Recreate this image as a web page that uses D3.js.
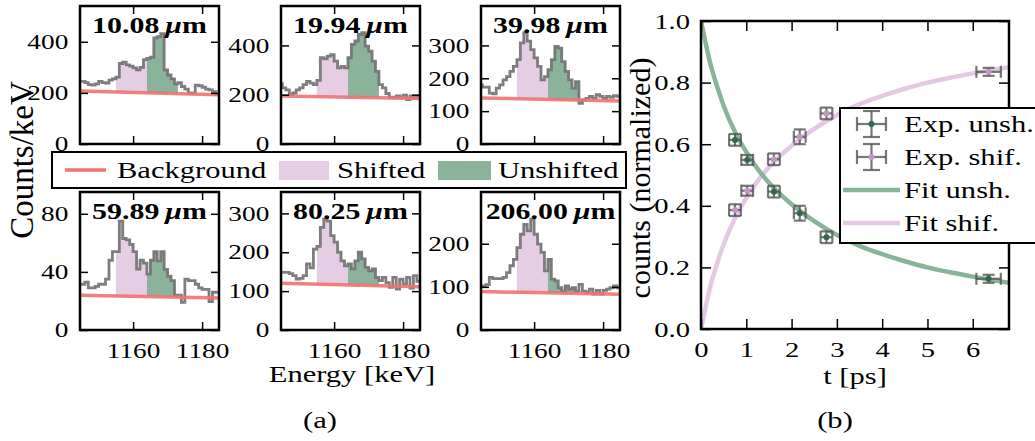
<!DOCTYPE html>
<html><head><meta charset="utf-8">
<script src="https://cdn.jsdelivr.net/npm/d3@7"></script>
<style>
body{margin:0;background:#fff}
svg{display:block;background:#fff}
text{font-family:"Liberation Serif","Times New Roman",serif;fill:#000}
</style>
</head><body>
<svg id="c" width="1035" height="441"></svg>
<script>
// ---------- DATA (a) ----------
const energyStart = 1144;              // first 1 keV bin left edge
const energyDomain = [1144.6, 1184.9];
const panelTitles = ["10.08", "19.94", "39.98", "59.89", "80.25", "206.00"];
const counts1 = [245,245,240,232,230,235,245,240,238,250,255,262,315,320,310,305,298,290,300,330,335,340,415,420,432,290,270,255,235,240,225,215,200,198,230,228,222,215,212,205,195];
const counts2 = [245,228,220,200,207,220,228,241,254,247,241,258,350,346,357,363,336,309,315,309,350,404,418,445,452,397,377,336,295,241,228,205,190,188,195,190,198,180,195,188,195];
const counts3 = [180,173,173,155,153,170,180,195,205,221,236,257,308,339,313,287,262,236,195,205,226,257,297,292,251,221,195,170,190,124,134,139,145,139,150,145,139,145,142,147,145];
const counts4 = [31.5,31.5,33,29,29,30,31.5,31.5,35,48,54,54,75,63,62,59,54,42,48,46,38.5,48,54,47.6,54,41.8,37,34,24,24,19,35,34,34,31.5,29,28,28,19.5,26,26];
const counts5 = [148,148,148,145,140,131,133,140,170,160,208,215,264,285,280,243,226,200,178,165,170,157,178,200,183,161,152,157,135,127,135,122,110,135,105,131,118,135,108,140,125];
const counts6 = [102,102,105,122,119,119,119,122,133,149,164,191,222,245,230,257,222,199,180,137,164,118,114,98,90,102,95,98,90,106,90,87,95,83,92,83,92,95,98,102,98];
const yMaxes = [540, 560, 420, 95, 355, 320];
const yTickVals = [[0,200,400],[0,200,400],[0,100,200,300],[0,40,80],[0,100,200,300],[0,100,200]];
const bgLeft  = [207, 195, 140, 24, 120, 89];
const bgRight = [193, 185, 131, 22, 111, 83];
const shiftedRange = [1155, 1164];
const unshiftedRange = [1164, 1173];
const energyTicks = [1160, 1180];
const legendALabels = ["Background", "Shifted", "Unshifted"];

// ---------- DATA (b) ----------
const tVals  = [0.75, 1.02, 1.61, 2.18, 2.77, 6.35];
const tErr   = [0.13, 0.13, 0.13, 0.13, 0.13, 0.27];
const unshVals = [0.614, 0.549, 0.446, 0.376, 0.298, 0.163];
const shifVals = [0.386, 0.449, 0.551, 0.624, 0.700, 0.835];
const yErrVals = [0.019, 0.016, 0.019, 0.024, 0.019, 0.013];
const fitT    = [0, 0.1, 0.2, 0.35, 0.5, 0.75, 1.0, 1.25, 1.5, 2.0, 2.5, 3.0, 3.5, 4.0, 4.5, 5.0, 5.5, 6.0, 6.5, 6.8];
const fitUnsh = [1.0, 0.93, 0.865, 0.79, 0.725, 0.64, 0.575, 0.52, 0.475, 0.405, 0.35, 0.305, 0.27, 0.243, 0.22, 0.2, 0.184, 0.17, 0.157, 0.15];
const fitShif = [0, 0.07, 0.135, 0.21, 0.275, 0.36, 0.425, 0.48, 0.525, 0.595, 0.65, 0.695, 0.73, 0.757, 0.78, 0.80, 0.816, 0.83, 0.843, 0.85];
const tTicks = [0,1,2,3,4,5,6];
const cTicks = [0,0.2,0.4,0.6,0.8,1.0];
const legendBLabels = ["Exp. unsh.", "Exp. shif.", "Fit unsh.", "Fit shif."];

// ---------- STYLE ----------
const SX = 1.3;
const C = {pink:"#e5cde4", green:"#8bb39b", hist:"#707070", bg:"#f07272",
           fitG:"#88b49a", fitP:"#e4c9e4", err:"#555", dotG:"#2d6b4a", dotP:"#c495c6"};

const svg = d3.select("#c");
svg.append("rect").attr("width",1035).attr("height",441).attr("fill","#fff");

function htext(parent, x, y, str, size, anchor, weight){
  return parent.append("text").attr("transform",`translate(${x},${y}) scale(${SX},1)`)
    .attr("font-size",size).attr("text-anchor",anchor||"start").attr("font-weight",weight||"normal").text(str);
}
function styleAxis(g, size, labels){
  g.select(".domain").remove();
  g.selectAll(".tick line").attr("stroke","#000").attr("stroke-width",1.5);
  g.attr("font-family",null).attr("font-size",null);
  const t = g.selectAll(".tick text");
  if(!labels){ t.remove(); return; }
  t.attr("font-size",size).attr("fill","#000").attr("transform",`scale(${SX},1)`);
}

// ---------- PANELS (a) ----------
const panelLeft = [80, 281, 481], panelTop = [6, 192], panelW = 139, panelH = 138;
const allCounts = [counts1, counts2, counts3, counts4, counts5, counts6];

allCounts.forEach((vals, i) => {
  const col = i % 3, row = Math.floor(i / 3);
  const x0 = panelLeft[col], y0 = panelTop[row];
  const x = d3.scaleLinear().domain(energyDomain).range([x0, x0 + panelW]);
  const y = d3.scaleLinear().domain([0, yMaxes[i]]).range([y0 + panelH, y0]);
  const g = svg.append("g");
  const cid = "clip" + i;
  svg.append("clipPath").attr("id", cid).append("rect")
     .attr("x", x0).attr("y", y0).attr("width", panelW).attr("height", panelH);
  const inner = g.append("g").attr("clip-path", `url(#${cid})`);
  const bg = e => bgLeft[i] + (bgRight[i] - bgLeft[i]) * (e - energyDomain[0]) / (energyDomain[1] - energyDomain[0]);

  function region(rng, color){
    const pts = [];
    for(let e = rng[0]; e < rng[1]; e++){
      const v = vals[e - energyStart];
      pts.push({e: e, v: v}, {e: e + 1, v: v});
    }
    inner.append("path").datum(pts)
      .attr("d", d3.area().x(d => x(d.e)).y0(d => y(bg(d.e))).y1(d => y(d.v)))
      .attr("fill", color);
  }
  region(shiftedRange, C.pink);
  region(unshiftedRange, C.green);

  const step = vals.map((v, k) => [energyStart + k, v]);
  step.push([energyStart + vals.length, vals[vals.length - 1]]);
  inner.append("path").datum(step)
    .attr("d", d3.line().x(d => x(d[0])).y(d => y(d[1])).curve(d3.curveStepAfter))
    .attr("fill", "none").attr("stroke", C.hist).attr("stroke-width", 2.8).attr("stroke-opacity", 0.9);

  inner.append("path").datum(energyDomain)
    .attr("d", d3.line().x(d => x(d)).y(d => y(bg(d))))
    .attr("stroke", C.bg).attr("stroke-width", 3.5).attr("stroke-opacity", 0.9);

  const ab = g.append("g").attr("transform", `translate(0,${y0 + panelH})`)
    .call(d3.axisBottom(x).tickValues(energyTicks).tickFormat(d3.format("d")).tickSizeInner(-8).tickSizeOuter(0).tickPadding(13));
  styleAxis(ab, 21, row === 1);
  const at = g.append("g").attr("transform", `translate(0,${y0})`)
    .call(d3.axisTop(x).tickValues(energyTicks).tickSizeInner(-8).tickSizeOuter(0));
  styleAxis(at, 21, false);
  const al = g.append("g").attr("transform", `translate(${x0},0)`)
    .call(d3.axisLeft(y).tickValues(yTickVals[i]).tickSizeInner(-8).tickSizeOuter(0).tickPadding(9));
  styleAxis(al, 21, true);
  const ar = g.append("g").attr("transform", `translate(${x0 + panelW},0)`)
    .call(d3.axisRight(y).tickValues(yTickVals[i]).tickSizeInner(-8).tickSizeOuter(0));
  styleAxis(ar, 21, false);

  g.append("rect").attr("x", x0).attr("y", y0).attr("width", panelW).attr("height", panelH)
    .attr("fill", "none").attr("stroke", "#000").attr("stroke-width", 2.5);

  const tt = g.append("text")
    .attr("transform", `translate(${x0 + panelW / 2},${y0 + 27}) scale(${SX},1)`)
    .attr("font-size", 23).attr("font-weight", "bold").attr("text-anchor", "middle");
  tt.append("tspan").text(panelTitles[i] + "\u2009");
  tt.append("tspan").attr("font-style", "italic").text("\u03bc");
  tt.append("tspan").text("m");
});

// Labels (a)
svg.append("text").attr("transform", "translate(33,160) rotate(-90)")
  .attr("font-size", 33).attr("text-anchor", "middle").text("Counts/keV");
htext(svg, 352, 382, "Energy [keV]", 23.5, "middle");
htext(svg, 320, 428, "(a)", 23.5, "middle");

// Legend (a)
const la = svg.append("g");
la.append("rect").attr("x", 52).attr("y", 152).attr("width", 574).attr("height", 36)
  .attr("fill", "#fff").attr("stroke", "#000").attr("stroke-width", 2);
la.append("line").attr("x1", 65).attr("x2", 106).attr("y1", 170).attr("y2", 170)
  .attr("stroke", C.bg).attr("stroke-width", 3.5);
htext(la, 117, 178, legendALabels[0], 23.5);
la.append("rect").attr("x", 279).attr("y", 161).attr("width", 50).attr("height", 19).attr("fill", C.pink);
htext(la, 337, 178, legendALabels[1], 23.5);
la.append("rect").attr("x", 438).attr("y", 161).attr("width", 53).attr("height", 19).attr("fill", C.green);
htext(la, 498, 178, legendALabels[2], 23.5);

// ---------- PANEL (b) ----------
const bx0 = 701, bx1 = 1009, by0 = 21, by1 = 329;
const tx = d3.scaleLinear().domain([0, 6.8]).range([bx0, bx1]);
const cy = d3.scaleLinear().domain([0, 1]).range([by1, by0]);
const gb = svg.append("g");
svg.append("clipPath").attr("id", "clipb").append("rect")
  .attr("x", bx0).attr("y", by0).attr("width", bx1 - bx0).attr("height", by1 - by0);
const ib = gb.append("g").attr("clip-path", "url(#clipb)");

const fitLine = d3.line().x((d, k) => tx(fitT[k])).y(d => cy(d)).curve(d3.curveMonotoneX);
ib.append("path").datum(fitShif).attr("d", fitLine).attr("fill", "none")
  .attr("stroke", C.fitP).attr("stroke-width", 4.5);
ib.append("path").datum(fitUnsh).attr("d", fitLine).attr("fill", "none")
  .attr("stroke", C.fitG).attr("stroke-width", 4.5);

function errbars(vals, dotColor){
  const cap = 6;
  vals.forEach((v, k) => {
    const px = tx(tVals[k]), py = cy(v);
    const xl = tx(tVals[k] - tErr[k]), xr = tx(tVals[k] + tErr[k]);
    const yt = cy(v + yErrVals[k]), yb = cy(v - yErrVals[k]);
    const e = gb.append("g").attr("stroke", C.err).attr("stroke-width", 2.2).attr("stroke-opacity", 0.8);
    e.append("line").attr("x1", xl).attr("x2", xr).attr("y1", py).attr("y2", py);
    e.append("line").attr("x1", px).attr("x2", px).attr("y1", yt).attr("y2", yb);
    e.append("line").attr("x1", xl).attr("x2", xl).attr("y1", py - cap).attr("y2", py + cap);
    e.append("line").attr("x1", xr).attr("x2", xr).attr("y1", py - cap).attr("y2", py + cap);
    e.append("line").attr("x1", px - cap).attr("x2", px + cap).attr("y1", yt).attr("y2", yt);
    e.append("line").attr("x1", px - cap).attr("x2", px + cap).attr("y1", yb).attr("y2", yb);
    gb.append("circle").attr("cx", px).attr("cy", py).attr("r", 3).attr("fill", dotColor);
  });
}
errbars(unshVals, C.dotG);
errbars(shifVals, C.dotP);

const bb = gb.append("g").attr("transform", `translate(0,${by1})`)
  .call(d3.axisBottom(tx).tickValues(tTicks).tickFormat(d3.format("d")).tickSizeInner(-10).tickSizeOuter(0).tickPadding(12));
styleAxis(bb, 22, true);
const bt = gb.append("g").attr("transform", `translate(0,${by0})`)
  .call(d3.axisTop(tx).tickValues(tTicks).tickSizeInner(-10).tickSizeOuter(0));
styleAxis(bt, 22, false);
const bl = gb.append("g").attr("transform", `translate(${bx0},0)`)
  .call(d3.axisLeft(cy).tickValues(cTicks).tickFormat(d3.format(".1f")).tickSizeInner(-10).tickSizeOuter(0).tickPadding(8.5));
styleAxis(bl, 22, true);
const br = gb.append("g").attr("transform", `translate(${bx1},0)`)
  .call(d3.axisRight(cy).tickValues(cTicks).tickSizeInner(-10).tickSizeOuter(0));
styleAxis(br, 22, false);
gb.append("rect").attr("x", bx0).attr("y", by0).attr("width", bx1 - bx0).attr("height", by1 - by0)
  .attr("fill", "none").attr("stroke", "#000").attr("stroke-width", 2.5);

svg.append("text").attr("transform", "translate(650,178) rotate(-90)")
  .attr("font-size", 30).attr("text-anchor", "middle").text("counts (normalized)");
htext(svg, 855, 384, "t [ps]", 23.5, "middle");
htext(svg, 835, 428, "(b)", 23.5, "middle");

// Legend (b)
const lb = svg.append("g");
lb.append("rect").attr("x", 840).attr("y", 108).attr("width", 210).attr("height", 135)
  .attr("fill", "#fff").attr("stroke", "#000").attr("stroke-width", 2);
legendBLabels.forEach((lab, k) => {
  const yc = 124 + 33 * k;
  if(k < 2){
    const e = lb.append("g").attr("stroke", C.err).attr("stroke-width", 2.2).attr("stroke-opacity", 0.8);
    e.append("line").attr("x1", 857).attr("x2", 886).attr("y1", yc).attr("y2", yc);
    e.append("line").attr("x1", 871.5).attr("x2", 871.5).attr("y1", yc - 13).attr("y2", yc + 13);
    e.append("line").attr("x1", 857).attr("x2", 857).attr("y1", yc - 7).attr("y2", yc + 7);
    e.append("line").attr("x1", 886).attr("x2", 886).attr("y1", yc - 7).attr("y2", yc + 7);
    e.append("line").attr("x1", 863).attr("x2", 880).attr("y1", yc - 13).attr("y2", yc - 13);
    e.append("line").attr("x1", 863).attr("x2", 880).attr("y1", yc + 13).attr("y2", yc + 13);
    lb.append("circle").attr("cx", 871.5).attr("cy", yc).attr("r", 3).attr("fill", k === 0 ? C.dotG : C.dotP);
  } else {
    lb.append("line").attr("x1", 843).attr("x2", 900).attr("y1", yc).attr("y2", yc)
      .attr("stroke", k === 2 ? C.fitG : C.fitP).attr("stroke-width", 4.5);
  }
  htext(lb, 904, yc + 8, lab, 23.5);
});
</script>
</body></html>
